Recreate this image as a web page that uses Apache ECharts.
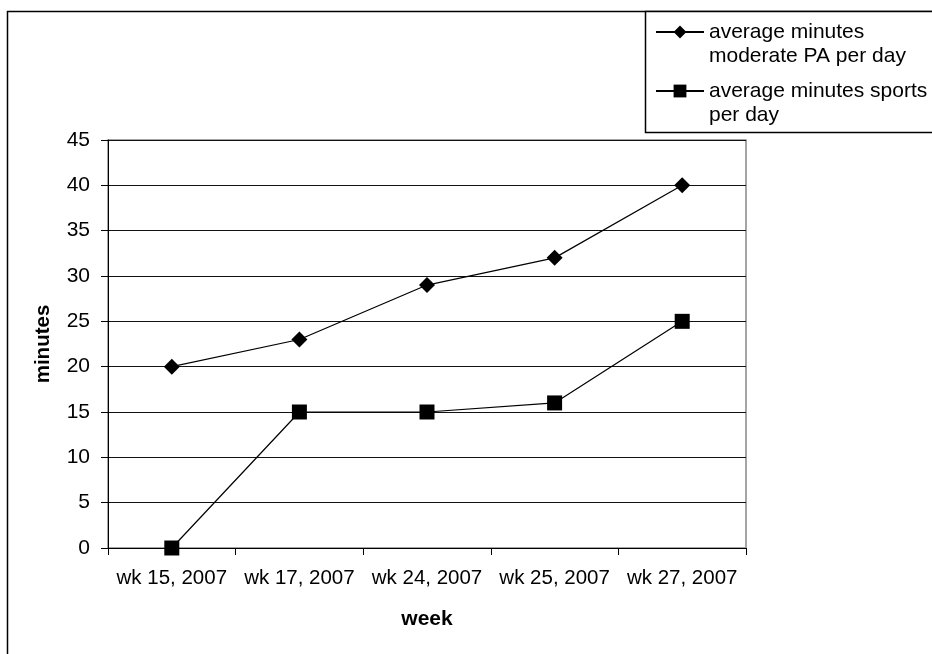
<!DOCTYPE html>
<html><head><meta charset="utf-8">
<script src="https://cdn.jsdelivr.net/npm/echarts@6/dist/echarts.min.js"></script>
<style>html,body{margin:0;padding:0;background:#fff}#c{width:932px;height:654px}</style>
</head><body><div id="c"></div>
<script>
var categories = ['wk 15, 2007', 'wk 17, 2007', 'wk 24, 2007', 'wk 25, 2007', 'wk 27, 2007'];
var moderatePA = [20, 23, 29, 32, 40];
var sports = [0, 15, 15, 16, 25];
var seriesNames = ['average minutes\nmoderate PA per day', 'average minutes sports\nper day'];
var yTicks = {min: 0, max: 45, interval: 5};

var chart = echarts.init(document.getElementById('c'));
var font = 'Liberation Sans, Arial, sans-serif';
var legendBase = {
  orient: 'vertical', left: 655, itemWidth: 48, itemHeight: 16, itemGap: 8,
  textStyle: {fontFamily: font, fontSize: 21, color: '#000', lineHeight: 24},
  formatter: function (n) { return ' \n' + n; },
  padding: 0
};
chart.setOption({
  animation: false,
  backgroundColor: '#fff',
  graphic: [
    {type: 'rect', shape: {x: 7.5, y: 11.5, width: 940, height: 660}, style: {fill: 'none', stroke: '#000', lineWidth: 1.5}, z: -1},
    {type: 'rect', shape: {x: 645.5, y: 11.5, width: 300, height: 121}, style: {fill: '#fff', stroke: '#000', lineWidth: 1.5}, z: 0}
  ],
  legend: [
    Object.assign({}, legendBase, {top: -4, data: [seriesNames[0]]}),
    Object.assign({}, legendBase, {top: 55, data: [seriesNames[1]]})
  ],
  grid: {left: 108, top: 140, right: 186, bottom: 106, show: true, borderColor: '#888', borderWidth: 1.5},
  xAxis: {
    type: 'category', data: categories, boundaryGap: true,
    name: 'week', nameLocation: 'middle', nameGap: 61,
    nameTextStyle: {fontFamily: font, fontSize: 21, fontWeight: 'bold', color: '#000'},
    axisLine: {lineStyle: {color: '#000', width: 1}},
    axisTick: {show: true, length: 7, interval: 0, lineStyle: {color: '#000'}},
    axisLabel: {fontFamily: font, fontSize: 20.5, color: '#000', margin: 20, interval: 0}
  },
  yAxis: {
    type: 'value', min: yTicks.min, max: yTicks.max, interval: yTicks.interval,
    name: 'minutes', nameLocation: 'middle', nameGap: 54,
    nameTextStyle: {fontFamily: font, fontSize: 20.5, fontWeight: 'bold', color: '#000'},
    axisLine: {show: true, lineStyle: {color: '#000', width: 1}},
    axisTick: {show: true, length: 7, lineStyle: {color: '#000'}},
    axisLabel: {fontFamily: font, fontSize: 21, color: '#000', margin: 18},
    splitLine: {show: true, lineStyle: {color: '#111', width: 1}}
  },
  series: [
    {name: seriesNames[0], type: 'line', data: moderatePA, symbol: 'diamond', symbolSize: 16,
     lineStyle: {color: '#000', width: 1.2}, itemStyle: {color: '#000'}},
    {name: seriesNames[1], type: 'line', data: sports, symbol: 'rect', symbolSize: 15,
     lineStyle: {color: '#000', width: 1.2}, itemStyle: {color: '#000'}}
  ]
});
</script></body></html>
